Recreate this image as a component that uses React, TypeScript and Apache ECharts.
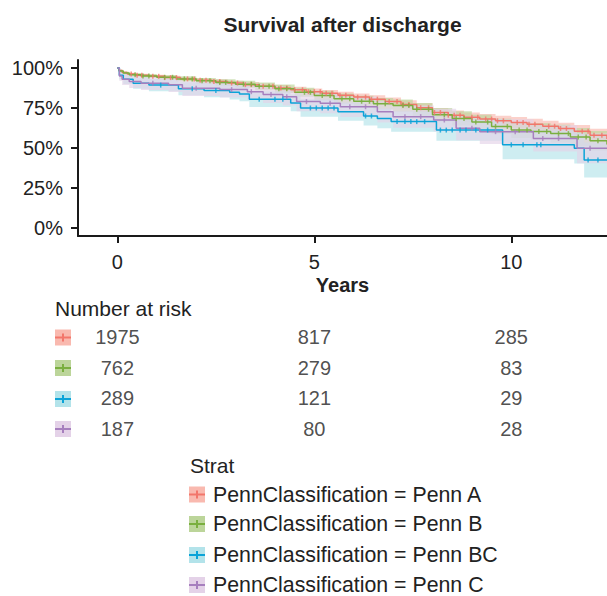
import React, { useEffect, useRef } from "react";
import * as echarts from "echarts";

// ---- data ----
const riskTimes = [0, 5, 10];
const groupKeys = ["Penn A", "Penn B", "Penn BC", "Penn C"];
const legendLabels = [
  "PennClassification = Penn A",
  "PennClassification = Penn B",
  "PennClassification = Penn BC",
  "PennClassification = Penn C",
];
const riskA = [1975, 817, 285];
const riskB = [762, 279, 83];
const riskBC = [289, 121, 29];
const riskC = [187, 80, 28];

const tA = [0, 0.04, 0.12, 0.25, 0.45, 0.8, 1.2, 1.6, 2.0, 2.4, 2.8, 3.2, 3.6, 4.0, 4.4, 4.8, 5.2, 5.6, 6.0, 6.4, 6.8, 7.2, 7.6, 8.0, 8.4, 8.8, 9.2, 9.6, 10.0, 10.4, 10.8, 11.2, 11.6, 12.0, 12.43];
const sA = [1.0, 0.985, 0.972, 0.962, 0.955, 0.948, 0.94, 0.932, 0.923, 0.915, 0.906, 0.896, 0.886, 0.875, 0.864, 0.852, 0.842, 0.83, 0.818, 0.805, 0.79, 0.772, 0.752, 0.722, 0.705, 0.692, 0.681, 0.67, 0.66, 0.649, 0.636, 0.622, 0.605, 0.58, 0.556];
const loA = [1.0, 0.98, 0.965, 0.954, 0.946, 0.938, 0.929, 0.92, 0.91, 0.901, 0.891, 0.88, 0.869, 0.857, 0.845, 0.832, 0.821, 0.808, 0.795, 0.781, 0.765, 0.746, 0.725, 0.694, 0.676, 0.662, 0.65, 0.638, 0.627, 0.615, 0.601, 0.586, 0.567, 0.54, 0.513];
const hiA = [1.0, 0.99, 0.979, 0.97, 0.964, 0.958, 0.951, 0.944, 0.936, 0.929, 0.921, 0.912, 0.903, 0.893, 0.883, 0.872, 0.863, 0.852, 0.841, 0.829, 0.815, 0.798, 0.779, 0.75, 0.734, 0.722, 0.712, 0.702, 0.693, 0.683, 0.671, 0.658, 0.643, 0.62, 0.599];
const censA = [0.35, 0.5, 0.62, 0.9, 1.05, 1.2, 1.35, 1.5, 1.78, 1.95, 2.1, 2.25, 2.45, 2.6, 2.9, 3.05, 3.25, 3.4, 3.7, 3.95, 4.15, 4.3, 4.5, 4.7, 4.85, 5.0, 5.15, 5.3, 5.45, 5.65, 5.8, 6.1, 6.3, 6.45, 6.6, 6.9, 7.1, 7.25, 7.4, 7.7, 7.9, 8.05, 8.2, 8.4, 8.55, 8.7, 9.0, 9.15, 9.35, 9.5, 9.65, 9.8, 10.15, 10.3, 10.45, 10.6, 10.95, 11.1, 11.25, 11.4, 11.8, 11.95, 12.1, 12.3];

const tB = [0, 0.04, 0.15, 0.3, 0.6, 1.0, 1.5, 2.0, 2.5, 3.0, 3.5, 4.0, 4.5, 5.0, 5.5, 6.0, 6.5, 7.0, 7.5, 8.0, 8.5, 9.0, 9.5, 10.0, 10.5, 11.0, 11.5, 12.0, 12.43];
const sB = [1.0, 0.982, 0.968, 0.958, 0.95, 0.942, 0.932, 0.92, 0.91, 0.899, 0.886, 0.871, 0.848, 0.828, 0.808, 0.792, 0.777, 0.765, 0.742, 0.708, 0.685, 0.662, 0.635, 0.612, 0.603, 0.59, 0.568, 0.545, 0.522];
const loB = [1.0, 0.975, 0.958, 0.946, 0.937, 0.927, 0.915, 0.901, 0.889, 0.876, 0.861, 0.844, 0.82, 0.798, 0.776, 0.758, 0.741, 0.727, 0.702, 0.666, 0.641, 0.616, 0.587, 0.562, 0.551, 0.535, 0.511, 0.484, 0.458];
const hiB = [1.0, 0.989, 0.977, 0.969, 0.962, 0.956, 0.948, 0.938, 0.93, 0.921, 0.91, 0.897, 0.876, 0.858, 0.84, 0.826, 0.813, 0.803, 0.782, 0.75, 0.729, 0.708, 0.683, 0.662, 0.655, 0.645, 0.625, 0.606, 0.586];
const censB = [0.45, 0.65, 0.8, 1.2, 1.4, 1.7, 1.9, 2.15, 2.35, 2.6, 2.75, 3.2, 3.4, 3.6, 3.85, 4.1, 4.3, 4.75, 4.9, 5.2, 5.4, 5.7, 5.9, 6.2, 6.4, 6.6, 6.8, 7.25, 7.4, 7.6, 7.9, 8.3, 8.6, 8.8, 9.1, 9.4, 9.6, 9.9, 10.2, 10.4, 10.7, 10.9, 11.2, 11.45, 11.7, 11.9, 12.2];

const tBC = [0, 0.05, 0.15, 0.4, 0.8, 1.55, 2.2, 2.85, 3.1, 3.35, 4.4, 4.65, 5.6, 6.25, 6.6, 6.95, 8.1, 9.78, 11.6, 11.85, 12.43];
const sBC = [1.0, 0.955, 0.93, 0.905, 0.893, 0.87, 0.86, 0.848, 0.838, 0.805, 0.782, 0.75, 0.727, 0.7, 0.685, 0.665, 0.612, 0.52, 0.498, 0.425, 0.425];
const loBC = [1.0, 0.93, 0.9, 0.87, 0.855, 0.829, 0.817, 0.803, 0.792, 0.756, 0.73, 0.696, 0.67, 0.64, 0.623, 0.601, 0.545, 0.43, 0.403, 0.315, 0.315];
const hiBC = [1.0, 0.98, 0.96, 0.94, 0.931, 0.911, 0.903, 0.893, 0.884, 0.854, 0.834, 0.804, 0.784, 0.76, 0.747, 0.729, 0.679, 0.61, 0.593, 0.535, 0.535];
const censBC = [1.1, 1.9, 2.5, 3.6, 4.0, 4.2, 4.9, 5.05, 5.2, 5.35, 5.5, 6.3, 6.45, 7.1, 7.3, 7.45, 7.6, 7.8, 8.2, 8.35, 8.5, 8.7, 8.85, 9.1, 9.4, 10.0, 10.3, 10.65, 10.75, 11.95, 12.2];

const tC = [0, 0.05, 0.12, 0.3, 0.6, 1.3, 1.65, 2.6, 3.3, 3.7, 4.2, 4.55, 5.15, 5.66, 6.6, 7.0, 8.03, 8.6, 9.2, 10.56, 11.67, 12.43];
const sC = [1.0, 0.95, 0.93, 0.915, 0.905, 0.895, 0.873, 0.865, 0.852, 0.835, 0.821, 0.79, 0.779, 0.758, 0.727, 0.696, 0.675, 0.623, 0.602, 0.56, 0.498, 0.498];
const loC = [1.0, 0.92, 0.894, 0.875, 0.862, 0.85, 0.825, 0.815, 0.8, 0.781, 0.765, 0.73, 0.717, 0.694, 0.66, 0.627, 0.603, 0.548, 0.525, 0.478, 0.405, 0.405];
const hiC = [1.0, 0.975, 0.962, 0.951, 0.944, 0.936, 0.917, 0.911, 0.9, 0.886, 0.875, 0.848, 0.839, 0.82, 0.793, 0.765, 0.746, 0.698, 0.679, 0.642, 0.59, 0.59];
const censC = [0.9, 2.0, 2.9, 3.4, 3.9, 4.3, 4.8, 5.4, 5.9, 6.3, 7.3, 7.7, 8.3, 9.0, 9.6, 10.1, 10.8, 11.2, 12.0];

const yTicks = [0, 0.25, 0.5, 0.75, 1];
const xTicks = [0, 5, 10];

// ---- styling ----
const FONT = '"Liberation Sans", Arial, Helvetica, sans-serif';
const TXT = "#222222";
const lineColors = ["#F2766B", "#7AAF3F", "#0BA3D8", "#A67FBE"];
const fillColors = ["#F9B9AF", "#BCD59A", "#B3E3EA", "#E4D2E8"];

const groups = [
  { t: tA, s: sA, lo: loA, hi: hiA, cens: censA, risk: riskA },
  { t: tB, s: sB, lo: loB, hi: hiB, cens: censB, risk: riskB },
  { t: tBC, s: sBC, lo: loBC, hi: hiBC, cens: censBC, risk: riskBC },
  { t: tC, s: sC, lo: loC, hi: hiC, cens: censC, risk: riskC },
];

function survAt(t: number[], s: number[], x: number) {
  let v = s[0];
  for (let i = 0; i < t.length; i++) {
    if (t[i] <= x) v = s[i];
  }
  return v;
}

function keyGraphic(x: number, yc: number, i: number) {
  return {
    type: "group",
    x,
    y: yc - 8,
    children: [
      { type: "rect", shape: { x: 0, y: 0, width: 16, height: 16 }, style: { fill: fillColors[i] } },
      { type: "line", shape: { x1: 0, y1: 8, x2: 16, y2: 8 }, style: { stroke: lineColors[i], lineWidth: 2 } },
      { type: "line", shape: { x1: 8, y1: 4, x2: 8, y2: 12 }, style: { stroke: lineColors[i], lineWidth: 2 } },
    ],
  };
}

export default function App() {
  const ref = useRef<HTMLDivElement>(null);
  useEffect(() => {
    if (!ref.current) return;
    const chart = echarts.init(ref.current, null, { renderer: "svg" });

    const series: any[] = [];
    groups.forEach((g, i) => {
      // confidence band: one step-shaped polygon, positioned through the axis scales
      series.push({
        type: "custom",
        xAxisIndex: 0,
        yAxisIndex: 0,
        silent: true,
        clip: true,
        z: 1,
        data: g.t.map((x, j) => [x, g.lo[j], g.hi[j]]),
        renderItem: (params: any, api: any) => {
          if (params.dataIndex !== 0) return null;
          const n = g.t.length;
          const upper: number[][] = [];
          const lower: number[][] = [];
          for (let j = 0; j < n; j++) {
            const xNext = j < n - 1 ? g.t[j + 1] : g.t[j];
            upper.push(api.coord([g.t[j], g.hi[j]]));
            upper.push(api.coord([xNext, g.hi[j]]));
            lower.push(api.coord([g.t[j], g.lo[j]]));
            lower.push(api.coord([xNext, g.lo[j]]));
          }
          const points = upper.concat(lower.reverse());
          return {
            type: "polygon",
            shape: { points },
            style: { fill: fillColors[i], opacity: 0.65 },
          };
        },
      });
    });
    groups.forEach((g, i) => {
      series.push({
        type: "line",
        xAxisIndex: 0,
        yAxisIndex: 0,
        step: "end",
        symbol: "none",
        silent: true,
        lineStyle: { color: lineColors[i], width: 1.5 },
        data: g.t.map((x, j) => [x, g.s[j]]),
        z: 3,
      });
      series.push({
        type: "scatter",
        xAxisIndex: 0,
        yAxisIndex: 0,
        symbol: "rect",
        symbolSize: [1.5, 5],
        silent: true,
        itemStyle: { color: lineColors[i] },
        data: g.cens.map((x) => [x, survAt(g.t, g.s, x)]),
        z: 4,
      });
      series.push({
        type: "scatter",
        xAxisIndex: 1,
        yAxisIndex: 1,
        symbolSize: 1,
        silent: true,
        itemStyle: { color: "transparent" },
        label: {
          show: true,
          position: "inside",
          formatter: (p: any) => String(p.value[2]),
          fontFamily: FONT,
          fontSize: 20,
          color: TXT,
        },
        data: riskTimes.map((x, j) => [x, groupKeys[i], g.risk[j]]),
        z: 4,
      });
    });

    const graphics: any[] = [
      {
        type: "text",
        x: 342.5,
        y: 24,
        style: {
          text: "Survival after discharge",
          font: `bold 21px ${FONT}`,
          fill: TXT,
          textAlign: "center",
          textVerticalAlign: "middle",
        },
      },
      {
        type: "text",
        x: 55,
        y: 308,
        style: { text: "Number at risk", font: `21px ${FONT}`, fill: TXT, textVerticalAlign: "middle" },
      },
      {
        type: "text",
        x: 190,
        y: 465,
        style: { text: "Strat", font: `21px ${FONT}`, fill: TXT, textVerticalAlign: "middle" },
      },
    ];
    const riskY = [337.5, 368, 399, 429];
    const legY = [494.5, 524, 555, 585];
    groups.forEach((_, i) => {
      graphics.push(keyGraphic(55, riskY[i], i));
      graphics.push(keyGraphic(189, legY[i], i));
      graphics.push({
        type: "text",
        x: 213,
        y: legY[i],
        style: { text: legendLabels[i], font: `21.3px ${FONT}`, fill: TXT, textVerticalAlign: "middle" },
      });
    });

    chart.setOption({
      animation: false,
      backgroundColor: "#ffffff",
      textStyle: { fontFamily: FONT },
      grid: [
        { left: 78, top: 60, width: 529, height: 176 },
        { left: 78, top: 322, width: 529, height: 122 },
      ],
      xAxis: [
        {
          type: "value",
          gridIndex: 0,
          min: -1,
          max: 12.43,
          position: "bottom",
          name: "Years",
          nameLocation: "middle",
          nameGap: 39,
          nameTextStyle: { fontFamily: FONT, fontSize: 20, fontWeight: "bold", color: TXT },
          splitLine: { show: false },
          axisLine: { show: true, onZero: false, lineStyle: { color: "#1a1a1a", width: 2 } },
          axisTick: { show: true, length: 7, lineStyle: { color: "#1a1a1a", width: 2 }, customValues: xTicks },
          axisLabel: {
            customValues: xTicks,
            margin: 16,
            fontFamily: FONT,
            fontSize: 20,
            color: TXT,
          },
        },
        { type: "value", gridIndex: 1, min: -1, max: 12.43, show: false },
      ],
      yAxis: [
        {
          type: "value",
          gridIndex: 0,
          min: -0.05,
          max: 1.05,
          splitLine: { show: false },
          axisLine: { show: true, onZero: false, lineStyle: { color: "#1a1a1a", width: 2 } },
          axisTick: { show: true, length: 7, lineStyle: { color: "#1a1a1a", width: 2 }, customValues: yTicks },
          axisLabel: {
            customValues: yTicks,
            margin: 15,
            fontFamily: FONT,
            fontSize: 20,
            color: TXT,
            formatter: (v: number) => Math.round(v * 100) + "%",
          },
        },
        { type: "category", gridIndex: 1, data: groupKeys, inverse: true, show: false },
      ],
      graphic: graphics,
      series,
    });
    return () => chart.dispose();
  }, []);
  return (
    <div
      ref={ref}
      style={{ position: "fixed", left: 0, top: 0, width: 607, height: 596, background: "#fff" }}
    />
  );
}
